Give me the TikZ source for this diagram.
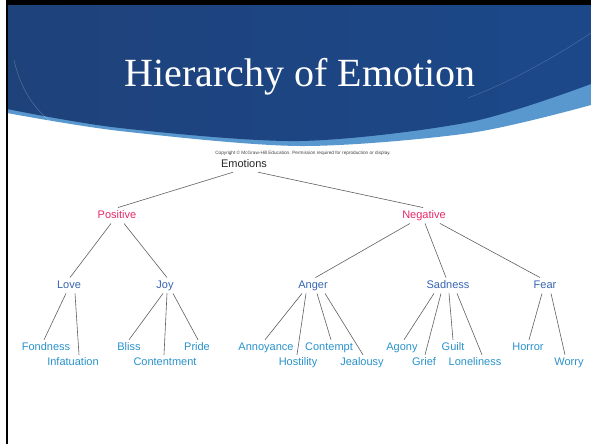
\documentclass[tikz,border=0pt]{standalone}
\usepackage{fontspec}
\setmainfont{Liberation Sans}
\newfontfamily\titlefont{Liberation Serif}
\usetikzlibrary{calc,positioning}

\definecolor{bannerleft}{RGB}{30,66,122}
\definecolor{bannermid}{RGB}{58,122,182}
\definecolor{bannerright}{RGB}{28,72,138}
\definecolor{bandblue}{RGB}{88,152,206}
\definecolor{valred}{RGB}{228,40,100}
\definecolor{basicblue}{RGB}{52,100,176}
\definecolor{leafblue}{RGB}{40,146,202}
\definecolor{linegray}{RGB}{95,95,95}

\begin{document}
\begin{tikzpicture}[x=1pt,y=-1pt,
  word/.style={inner sep=2.5pt,text height=8pt,text depth=2.5pt,font=\fontsize{11}{13}\selectfont},
  root/.style={word,text=black!85},
  valence/.style={word,text=valred},
  basic/.style={word,text=basicblue},
  leaf/.style={word,text=leafblue},
  link/.style={draw=linegray,line width=0.6pt}]

\useasboundingbox (0,0) rectangle (591,444);

% banner
\fill[bandblue] (7,5) -- (591,5) -- (591,105)
  -- plot[smooth] coordinates {(591,105) (470,133) (300,146) (120,131) (7,113)} -- cycle;
\shade[left color=bannerleft,middle color=bannermid,right color=bannerright]
  (7,5) -- (591,5) -- (591,84)
  -- plot[smooth] coordinates {(591,84) (470,122) (300,141) (120,128) (7,109)} -- cycle;
\draw[white,opacity=.25,line width=0.5pt] (14,60) .. controls (22,95) and (40,118) .. (68,133);
\draw[white,opacity=.2,line width=0.5pt] (591,33) .. controls (550,60) and (510,82) .. (468,98);

\node[font=\titlefont\fontsize{40}{48}\selectfont,text=white,anchor=base,inner sep=0pt] (title) at (300,86) {Hierarchy of Emotion};
\node[font=\fontsize{4.7}{5}\selectfont,text=black!75,inner sep=0pt] (copyright) at (303,153) {Copyright © McGraw-Hill Education. Permission required for reproduction or display.};

% tree
\node[root] (emotions) at (244,164.25) {Emotions};

\node[valence] (positive) at (117,215.5) {Positive};
\node[valence] (negative) at (424,215.5) {Negative};

\node[basic] (love) at (69,285.5) {Love};
\node[basic] (joy) at (165,285.5) {Joy};
\node[basic] (anger) at (313,285.5) {Anger};
\node[basic] (sadness) at (448,285.5) {Sadness};
\node[basic] (fear) at (545,285.5) {Fear};

\node[leaf] (fondness) at (46,347.75) {Fondness};
\node[leaf] (infatuation) at (73,362.75) {Infatuation};
\node[leaf] (bliss) at (129,347.75) {Bliss};
\node[leaf] (contentment) at (165,362.75) {Contentment};
\node[leaf] (pride) at (197,347.75) {Pride};
\node[leaf] (annoyance) at (266,347.75) {Annoyance};
\node[leaf] (hostility) at (298,362.75) {Hostility};
\node[leaf] (contempt) at (329,347.75) {Contempt};
\node[leaf] (jealousy) at (362,362.75) {Jealousy};
\node[leaf] (agony) at (402,347.75) {Agony};
\node[leaf] (grief) at (424,362.75) {Grief};
\node[leaf] (guilt) at (453,347.75) {Guilt};
\node[leaf] (loneliness) at (475,362.75) {Loneliness};
\node[leaf] (horror) at (528,347.75) {Horror};
\node[leaf] (worry) at (569,362.75) {Worry};

\draw[link] ([xshift=-11pt]emotions.south) -- ([xshift=1pt]positive.north);
\draw[link] ([xshift=14pt]emotions.south) -- ([xshift=-1pt]negative.north);

\draw[link] ([xshift=-6pt]positive.south) -- ([xshift=1pt]love.north);
\draw[link] ([xshift=7pt]positive.south) -- ([xshift=2pt]joy.north);
\draw[link] ([xshift=-14pt]negative.south) -- ([xshift=2.5pt]anger.north);
\draw[link] ([xshift=1pt]negative.south) -- ([xshift=-2pt]sadness.north);
\draw[link] ([xshift=16pt]negative.south) -- ([xshift=-5pt]fear.north);

\draw[link] ([xshift=-3pt]love.south) -- ([xshift=-2pt]fondness.north);
\draw[link] ([xshift=6pt]love.south) -- ([xshift=6pt]infatuation.north);
\draw[link] ([xshift=-2pt]joy.south) -- (bliss.north);
\draw[link] ([xshift=2pt]joy.south) -- ([xshift=-1pt]contentment.north);
\draw[link] ([xshift=8pt]joy.south) -- ([xshift=1pt]pride.north);
\draw[link] ([xshift=-11pt]anger.south) -- ([xshift=-1pt]annoyance.north);
\draw[link] ([xshift=-7pt]anger.south) -- ([xshift=-1pt]hostility.north);
\draw[link] ([xshift=4pt]anger.south) -- ([xshift=2pt]contempt.north);
\draw[link] ([xshift=12pt]anger.south) -- ([xshift=1pt]jealousy.north);
\draw[link] ([xshift=-14pt]sadness.south) -- ([xshift=2pt]agony.north);
\draw[link] ([xshift=-7pt]sadness.south) -- ([xshift=1pt]grief.north);
\draw[link] ([xshift=1pt]sadness.south) -- (guilt.north);
\draw[link] ([xshift=9pt]sadness.south) -- ([xshift=7pt]loneliness.north);
\draw[link] ([xshift=-3pt]fear.south) -- ([xshift=1pt]horror.north);
\draw[link] ([xshift=6pt]fear.south) -- ([xshift=-4pt]worry.north);

% frame
\fill[black] (5.5,0) rectangle (7.5,444);
\fill[black] (5.5,0) rectangle (591,5);
\end{tikzpicture}
\end{document}
